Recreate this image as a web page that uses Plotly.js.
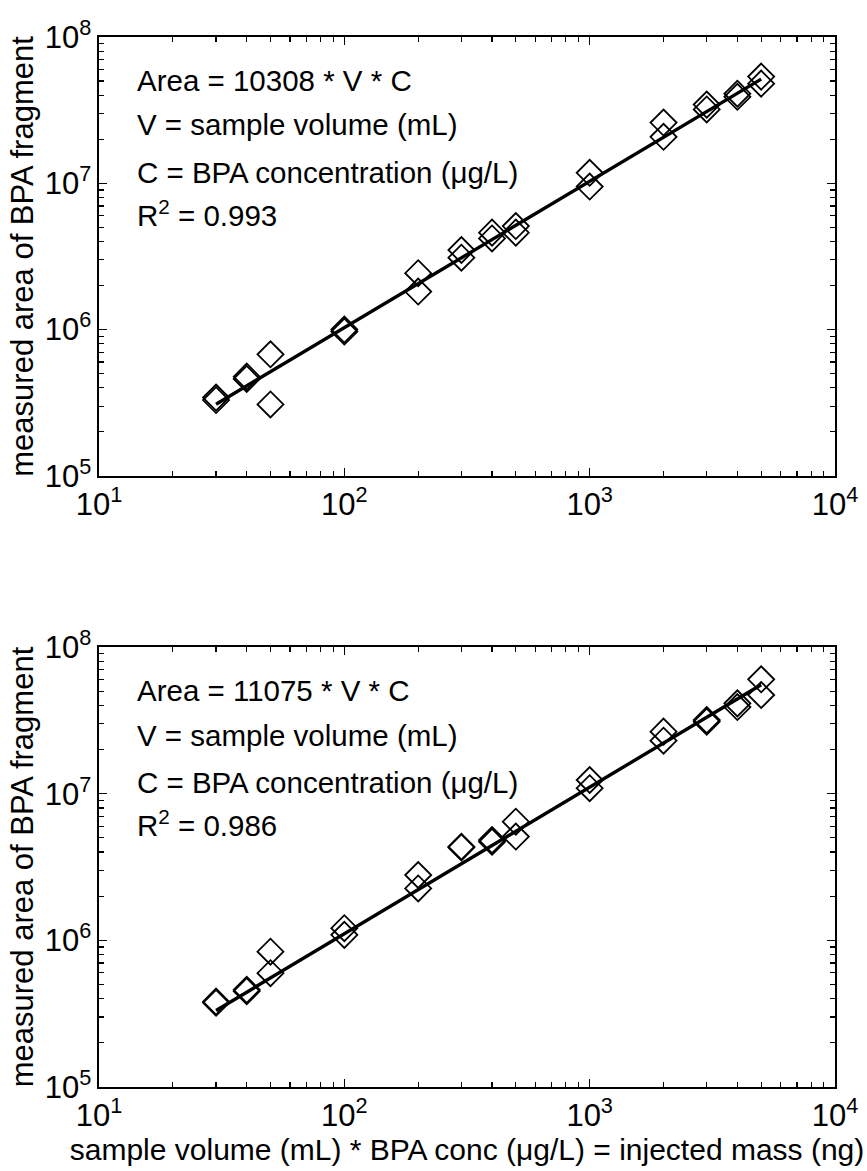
<!DOCTYPE html>
<html>
<head>
<meta charset="utf-8">
<script src="https://cdn.plot.ly/plotly-3.0.1.min.js"></script>
<style>html,body{margin:0;padding:0;background:#fff;}#chart{width:867px;height:1171px;}</style>
</head>
<body>
<div id="chart"></div>
<script>
// ---- data ----
const topX = [30,30,40,40,50,50,100,100,200,200,300,300,400,400,500,500,1000,1000,2000,2000,3000,3000,4000,4000,5000,5000];
const topY = [3.43e5,3.3e5,4.77e5,4.6e5,6.78e5,3.08e5,1.0e6,0.97e6,2.43e6,1.82e6,3.5e6,3.1e6,4.6e6,4.2e6,5.1e6,4.6e6,1.18e7,9.5e6,2.6e7,2.08e7,3.45e7,3.2e7,4.1e7,3.9e7,5.36e7,4.8e7];
const botX = [30,30,40,40,50,50,100,100,200,200,300,300,400,400,500,500,1000,1000,2000,2000,3000,3000,4000,4000,5000,5000];
const botY = [3.82e5,3.75e5,4.6e5,4.5e5,8.37e5,5.97e5,1.21e6,1.09e6,2.79e6,2.26e6,4.35e6,4.3e6,4.83e6,4.7e6,6.44e6,5.1e6,1.24e7,1.09e7,2.65e7,2.3e7,3.18e7,3.1e7,4.13e7,3.9e7,6.03e7,4.71e7];
const topSlope = 10308;
const botSlope = 11075;
const fitX = [30, 5000];
const topText = ["Area = 10308 * V * C", "V = sample volume (mL)", "C = BPA concentration (\u03bcg/L)", "R<sup>2</sup> = 0.993"];
const botText = ["Area = 11075 * V * C", "V = sample volume (mL)", "C = BPA concentration (\u03bcg/L)", "R<sup>2</sup> = 0.986"];
const xTickVals = [10, 100, 1000, 10000];
const xTickText = ["10<sup>1</sup>", "10<sup>2</sup>", "10<sup>3</sup>", "10<sup>4</sup>"];
const yTickVals = [1e5, 1e6, 1e7, 1e8];
const yTickText = ["10<sup>5</sup>", "10<sup>6</sup>", "10<sup>7</sup>", "10<sup>8</sup>"];
const yTitle = "measured area of BPA fragment";
const xTitle = "sample volume (mL) * BPA conc (\u03bcg/L) = injected mass (ng)";

// minor tick positions (axis configuration)
function minorVals(lo, hi) {
  const v = [];
  for (let e = lo; e < hi; e++) for (let m = 2; m <= 9; m++) v.push(m * Math.pow(10, e));
  return v;
}

const FONT = "Liberation Sans, Arial, sans-serif";
const markerStyle = {symbol: 'diamond-open', size: 20, color: 'black', line: {width: 1.8, color: 'black'}};

const traces = [
  {x: topX, y: topY, xaxis: 'x', yaxis: 'y', mode: 'markers', type: 'scatter', marker: markerStyle, showlegend: false},
  {x: fitX, y: fitX.map(v => v * topSlope), xaxis: 'x', yaxis: 'y', mode: 'lines', type: 'scatter', line: {color: 'black', width: 3.4}, showlegend: false},
  {x: botX, y: botY, xaxis: 'x2', yaxis: 'y2', mode: 'markers', type: 'scatter', marker: markerStyle, showlegend: false},
  {x: fitX, y: fitX.map(v => v * botSlope), xaxis: 'x2', yaxis: 'y2', mode: 'lines', type: 'scatter', line: {color: 'black', width: 3.4}, showlegend: false}
];

function xAxis(anchor, withTitle) {
  const a = {
    type: 'log', range: [1, 4], anchor: anchor, domain: [0, 1],
    tickmode: 'array', tickvals: xTickVals, ticktext: xTickText,
    ticks: 'inside', ticklen: 8, tickwidth: 1.2, tickcolor: 'black',
    minor: {tickmode: 'array', tickvals: minorVals(1, 4), ticks: 'inside', ticklen: 5, tickwidth: 1.2, tickcolor: 'black', showgrid: false},
    showline: true, linecolor: 'black', linewidth: 1.6, mirror: 'allticks',
    showgrid: false, zeroline: false,
    tickfont: {family: FONT, size: 31, color: 'black'}
  };
  if (withTitle) a.title = {text: xTitle, font: {family: FONT, size: 30, color: 'black'}, standoff: 0};
  return a;
}
function yAxis(anchor, domain) {
  return {
    type: 'log', range: [5, 8], anchor: anchor, domain: domain,
    tickmode: 'array', tickvals: yTickVals, ticktext: yTickText,
    ticks: 'inside', ticklen: 8, tickwidth: 1.2, tickcolor: 'black',
    minor: {tickmode: 'array', tickvals: minorVals(5, 8), ticks: 'inside', ticklen: 5, tickwidth: 1.2, tickcolor: 'black', showgrid: false},
    showline: true, linecolor: 'black', linewidth: 1.6, mirror: 'allticks',
    showgrid: false, zeroline: false,
    tickfont: {family: FONT, size: 31, color: 'black'},
    title: {text: yTitle, font: {family: FONT, size: 31, color: 'black'}, standoff: 2}
  };
}

const annYs = [0.902, 0.80, 0.692, 0.598];
const annotations = [];
topText.forEach((t, i) => annotations.push({text: t, xref: 'x domain', yref: 'y domain', x: 0.049, y: annYs[i], xanchor: 'left', yanchor: 'middle', showarrow: false, font: {family: FONT, size: 29.5, color: 'black'}}));
botText.forEach((t, i) => annotations.push({text: t, xref: 'x2 domain', yref: 'y2 domain', x: 0.049, y: annYs[i], xanchor: 'left', yanchor: 'middle', showarrow: false, font: {family: FONT, size: 29.5, color: 'black'}}));

const layout = {
  width: 867, height: 1171,
  margin: {l: 99, r: 32, t: 37, b: 84},
  paper_bgcolor: 'white', plot_bgcolor: 'white',
  font: {family: FONT, color: 'black'},
  xaxis: xAxis('y', false),
  yaxis: yAxis('x', [0.582, 1]),
  xaxis2: xAxis('y2', true),
  yaxis2: yAxis('x2', [0, 0.419]),
  annotations: annotations,
  showlegend: false
};

Plotly.newPlot('chart', traces, layout, {displayModeBar: false, staticPlot: true});
</script>
</body>
</html>
